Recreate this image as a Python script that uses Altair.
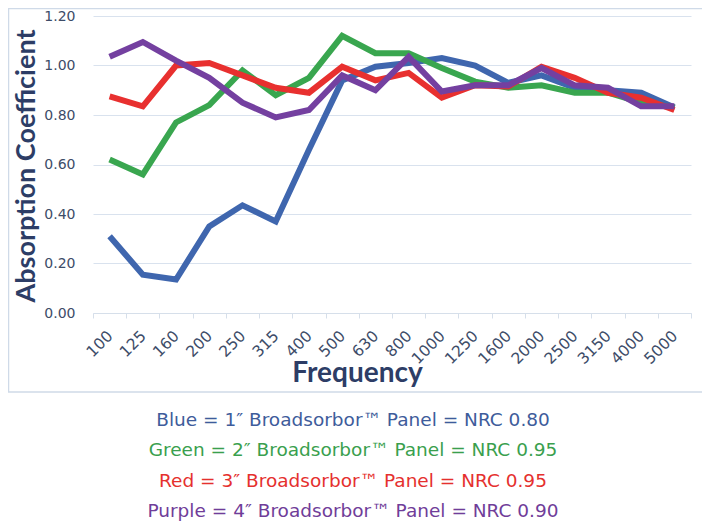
import altair as alt
import pandas as pd

freqs = ["100", "125", "160", "200", "250", "315", "400", "500", "630", "800",
         "1000", "1250", "1600", "2000", "2500", "3150", "4000", "5000"]

blue = [0.31, 0.155, 0.135, 0.35, 0.435, 0.37, 0.66, 0.94, 0.995, 1.01,
        1.03, 1.00, 0.93, 0.96, 0.91, 0.90, 0.89, 0.83]
green = [0.62, 0.56, 0.77, 0.84, 0.98, 0.88, 0.95, 1.12, 1.05, 1.05,
         0.99, 0.935, 0.91, 0.92, 0.89, 0.89, 0.85, 0.83]
red = [0.875, 0.835, 1.00, 1.01, 0.96, 0.91, 0.89, 0.995, 0.94, 0.97,
       0.87, 0.92, 0.915, 0.995, 0.95, 0.89, 0.87, 0.82]
purple = [1.035, 1.095, 1.02, 0.95, 0.85, 0.79, 0.82, 0.96, 0.90, 1.035,
          0.895, 0.92, 0.92, 0.99, 0.92, 0.91, 0.835, 0.835]

series_names = ["Blue", "Green", "Red", "Purple"]
series_colors = ["#3f66ae", "#39a64f", "#e8302f", "#7440a0"]
legend_colors = ["#3e5c9b", "#3a9f4e", "#e5302e", "#703d99"]
legend_lines = [
    "Blue = 1\u2033 Broadsorbor\u2122 Panel = NRC 0.80",
    "Green = 2\u2033 Broadsorbor\u2122 Panel = NRC 0.95",
    "Red = 3\u2033 Broadsorbor\u2122 Panel = NRC 0.95",
    "Purple = 4\u2033 Broadsorbor\u2122 Panel = NRC 0.90",
]
y_ticks = [0.0, 0.2, 0.4, 0.6, 0.8, 1.0, 1.2]

rows = []
for name, vals in zip(series_names, [blue, green, red, purple]):
    for f, v in zip(freqs, vals):
        rows.append({"Frequency": f, "value": v, "series": name})
df = pd.DataFrame(rows)

legend_df = pd.DataFrame({
    "text": legend_lines,
    "color": legend_colors,
    "row": list(range(len(legend_lines))),
})

W, H = 598, 297
label_color = "#3d4c68"
title_color = "#2d3d66"
line_color = "#d6dfea"

frame = alt.Chart(legend_df).mark_rect(
    fillOpacity=0, stroke="#cfdae8", strokeWidth=1.5
).encode(
    x=alt.value(-84.5), x2=alt.value(614), y=alt.value(-7.5), y2=alt.value(376)
).transform_filter(alt.datum.row == 0)

lines = alt.Chart(df).mark_line(strokeWidth=6).encode(
    x=alt.X(
        "Frequency:N", sort=freqs, bandPosition=0.5,
        scale=alt.Scale(type="band", paddingInner=0, paddingOuter=0),
        axis=alt.Axis(
            title="Frequency", labelAngle=315, labelAlign="right",
            labelBaseline="middle", labelFont="DejaVu Sans", labelFontSize=15.5,
            labelColor=label_color, labelPadding=15, tickBand="extent",
            tickSize=5, tickColor=line_color, domainColor=line_color,
            titleFont="Lato", titleFontSize=28, titleFontWeight="bold",
            titleColor=title_color, titleX=264, titleY=60,
            titleBaseline="middle", titleAlign="center", grid=False,
        ),
    ),
    y=alt.Y(
        "value:Q", scale=alt.Scale(domain=[0, 1.2]),
        axis=alt.Axis(
            values=y_ticks, format=".2f", title="Absorption Coefficient",
            domain=False, ticks=False, gridColor="#d9e2ee", labelFont="DejaVu Sans",
            labelFontSize=14, labelColor=label_color, labelPadding=18,
            titleFont="Lato", titleFontSize=27, titleFontWeight="bold",
            titleColor=title_color, titleX=-67, titleY=H / 2 + 1,
            titleBaseline="middle", titleAlign="center",
        ),
    ),
    color=alt.Color(
        "series:N", sort=series_names,
        scale=alt.Scale(domain=series_names, range=series_colors), legend=None,
    ),
)

legend_text = alt.Chart(legend_df).mark_text(
    font="DejaVu Sans", fontSize=18.5, align="center", baseline="middle"
).encode(
    text="text:N",
    x=alt.value(260),
    y=alt.Y("row:O", axis=None, scale=alt.Scale(type="point", padding=0, range=[404, 495])),
    color=alt.Color("color:N", scale=None),
)

chart = alt.layer(frame, lines, legend_text).resolve_scale(
    y="independent", color="independent"
).properties(
    width=W, height=H,
    autosize=alt.AutoSizeParams(type="none"),
    padding={"left": 85, "top": 8, "right": 11, "bottom": 208},
).configure_view(stroke=None)

chart.save("out.html", embed_options={"renderer": "svg", "actions": False})
